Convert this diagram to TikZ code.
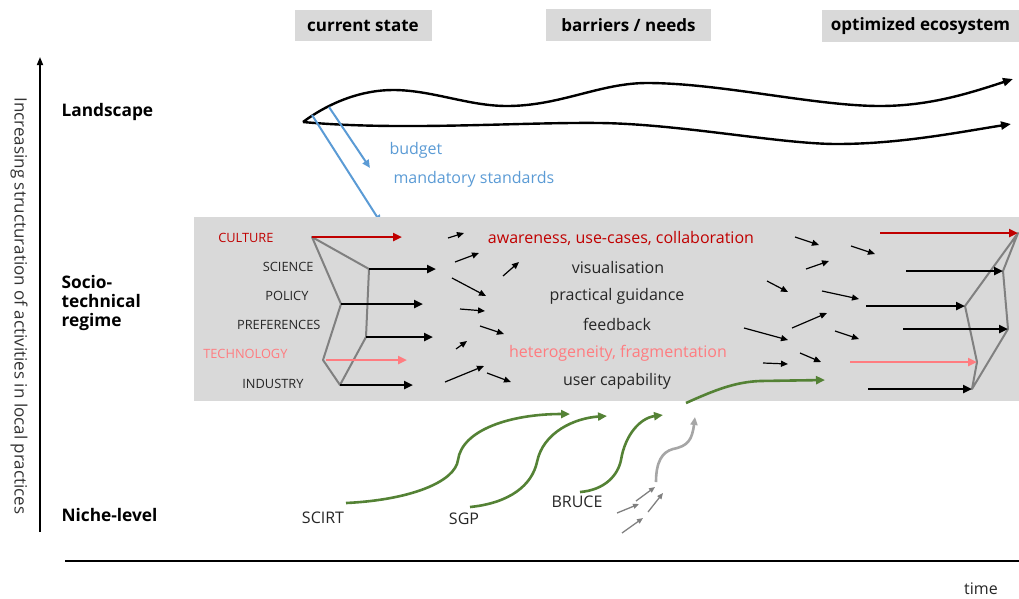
\documentclass[tikz,border=0pt]{standalone}
\usepackage{fontspec}
\setmainfont{Open Sans}
\usetikzlibrary{arrows.meta}
\definecolor{boxgray}{HTML}{D9D9D9}
\definecolor{polygray}{HTML}{808080}
\definecolor{cultred}{HTML}{C00000}
\definecolor{techred}{HTML}{FF7C80}
\definecolor{landblue}{HTML}{5B9BD5}
\definecolor{nichegreen}{HTML}{548235}
\definecolor{lightgray}{HTML}{A6A6A6}
\tikzset{
  hdr/.style={fill=boxgray, font=\fontsize{17}{19}\selectfont\bfseries, inner xsep=4pt, inner ysep=4pt},
  lvl/.style={font=\fontsize{17.3}{19}\selectfont\bfseries, anchor=west, align=left},
  cat/.style={font=\fontsize{12.8}{14}\selectfont, anchor=east, text=black!85},
  mid/.style={font=\fontsize{16}{18}\selectfont, text=black!85},
  bigarr/.style={line width=2.4pt, -{Triangle[length=9pt,width=8pt]}},
  smallarr/.style={line width=1.2pt, -{Triangle[length=7pt,width=6pt]}},
  poly/.style={polygray, line width=2pt, line join=round},
  landarr/.style={line width=2.4pt, -{Triangle[length=10pt,width=8pt]}},
  bluearr/.style={landblue, line width=2pt, -{Triangle[length=8pt,width=7pt]}},
  greenarr/.style={nichegreen, line width=2.6pt, -{Triangle[length=9pt,width=8pt]}},
  grayarr/.style={lightgray, line width=2.6pt, -{Triangle[length=8pt,width=7pt]}},
  tinyarr/.style={polygray, line width=1.3pt, -{Triangle[length=6pt,width=5pt]}},
  lbl/.style={font=\fontsize{16}{18}\selectfont, text=black!85},
}
\begin{document}
\begin{tikzpicture}[x=1pt,y=-1pt]
\useasboundingbox (0,0) rectangle (1019,598);
% headers
\node[hdr, minimum width=137pt, minimum height=31pt] (h1) at (363,25.5) {current state};
\node[hdr, minimum width=165pt, minimum height=32pt] (h2) at (628.5,25) {barriers / needs};
\node[hdr, minimum width=197pt, minimum height=32pt] (h3) at (920.5,26) {optimized ecosystem};
% axes
\coordinate (ya) at (40,532);
\coordinate (yb) at (40,57);
\draw[line width=1.6pt, -{Triangle[length=8pt,width=6pt]}] (ya) -- (yb);
\node[rotate=270, font=\fontsize{17}{19}\selectfont, text=black!80] (ylab) at (19,306) {Increasing structuration of activities in local practices};
\coordinate (xa) at (65,561);
\coordinate (xb) at (1019,561);
\draw[line width=1.6pt] (xa) -- (xb);
\node[font=\fontsize{16}{18}\selectfont, text=black!85, anchor=base, inner sep=0pt] (tlab) at (981,594) {time};
% level labels
\node[lvl] (land) at (58,112) {Landscape};
\node[lvl] (regime) at (58,303) {Socio-\\technical\\regime};
\node[lvl] (niche) at (58,515) {Niche-level};
% landscape curves
\coordinate (L0) at (303,122);
\coordinate (L1) at (1013,79);
\coordinate (M1) at (1011,124);
\draw[landarr] (L0) .. controls (330,102) and (362,90) .. (393,90) .. controls (432,90) and (468,106) .. (507,106) .. controls (560,106) and (600,83) .. (647,83) .. controls (720,83) and (815,106) .. (880,106) .. controls (930,106) and (970,93) .. (L1);
\draw[landarr] (L0) .. controls (400,131) and (520,122) .. (600,123) .. controls (680,124) and (780,144) .. (837,144) .. controls (900,144) and (960,132) .. (M1);
% blue arrows
\coordinate (b1s) at (312,115);
\coordinate (b1e) at (381,223);
\coordinate (b2s) at (329,107);
\coordinate (b2e) at (370,168);
\draw[bluearr] (b1s) -- (b1e);
\draw[bluearr] (b2s) -- (b2e);
\node[font=\fontsize{16}{18}\selectfont, text=landblue, anchor=west] (budget) at (386,150) {budget};
\node[font=\fontsize{16}{18}\selectfont, text=landblue, anchor=west] (mand) at (390,179) {mandatory standards};
% regime box
\fill[boxgray] (194,217) rectangle (1019,401);
% category labels
\node[cat, text=cultred] (cult) at (277,238) {CULTURE};
\node[cat] (sci) at (317,267) {SCIENCE};
\node[cat] (pol) at (312,296) {POLICY};
\node[cat] (pref) at (324,325) {PREFERENCES};
\node[cat, text=techred] (tech) at (291,354) {TECHNOLOGY};
\node[cat] (ind) at (307,384) {INDUSTRY};
% left polygon
\coordinate (A) at (312,237);
\coordinate (B) at (369,269);
\coordinate (C) at (341,304);
\coordinate (D) at (366,337);
\coordinate (E) at (323,360);
\coordinate (F) at (340,385);
\draw[poly] (A) -- (B) -- (D) -- (F) -- (E) -- (C) -- cycle;
% left arrows
\coordinate (Ae) at (402,237);
\coordinate (Be) at (436,269);
\coordinate (Ce) at (423,304);
\coordinate (De) at (433,337);
\coordinate (Es) at (326,360);
\coordinate (Ee) at (407,360);
\coordinate (Fe) at (413,385);
\draw[bigarr, cultred] (A) -- (Ae);
\draw[bigarr] (B) -- (Be);
\draw[bigarr] (C) -- (Ce);
\draw[bigarr] (D) -- (De);
\draw[bigarr, techred] (Es) -- (Ee);
\draw[bigarr] (F) -- (Fe);
% small arrows left
\foreach \xa/\ya/\xb/\yb in {448/238/464/233, 455/262/479/253, 503/276/519/262, 452/278/486/296, 460/309/485/311, 480/326/504/334, 456/349/467/341, 445/382/484/366, 487/373/511/382}
  \draw[smallarr] (\xa,\ya) -- (\xb,\yb);
% small arrows right
\foreach \xa/\ya/\xb/\yb in {795/237/819/245, 851/246/875/254, 806/269/829/261, 767/281/788/292, 822/291/859/299, 744/328/788/340, 792/328/827/313, 835/331/859/339, 763/363/788/364, 800/353/821/362}
  \draw[smallarr] (\xa,\ya) -- (\xb,\yb);
% middle texts
\node[mid, text=cultred] (aw) at (621,238) {awareness, use-cases, collaboration};
\node[mid] (vis) at (618,267) {visualisation};
\node[mid] (pg) at (617,296) {practical guidance};
\node[mid] (fb) at (617,324) {feedback};
\node[mid, text=techred] (het) at (618,353) {heterogeneity, fragmentation};
\node[mid] (uc) at (617,381) {user capability};
% right polygon
\coordinate (P1) at (1018,233);
\coordinate (P2) at (1003,271);
\coordinate (P3) at (965,306);
\coordinate (P4) at (1008,329);
\coordinate (P5) at (977,362);
\coordinate (P6) at (972,389);
\draw[poly] (P1) -- (P2) -- (P4) -- (P6) -- (P5) -- (P3) -- cycle;
% right arrows
\coordinate (R1) at (880,233);
\coordinate (R2) at (906,271);
\coordinate (R3) at (866,306);
\coordinate (R4) at (903,329);
\coordinate (R5) at (850,362);
\coordinate (R6) at (868,389);
\draw[bigarr, cultred] (R1) -- (P1);
\draw[bigarr] (R2) -- (P2);
\draw[bigarr] (R3) -- (P3);
\draw[bigarr] (R4) -- (P4);
\draw[bigarr, techred] (R5) -- (P5);
\draw[bigarr] (R6) -- (P6);
% niche level
\node[lbl] (scirt) at (323,518) {SCIRT};
\node[lbl] (sgp) at (464,519) {SGP};
\node[lbl] (bruce) at (577,502) {BRUCE};
\coordinate (s1) at (346,503);
\coordinate (s1m) at (458,460);
\coordinate (s1e) at (570,414);
\draw[greenarr] (s1) .. controls (410,500) and (455,482) .. (s1m) .. controls (462,430) and (510,414) .. (s1e);
\coordinate (s2) at (470,507);
\coordinate (s2m) at (537,462);
\coordinate (s2e) at (607,416);
\draw[greenarr] (s2) .. controls (510,503) and (532,485) .. (s2m) .. controls (543,432) and (575,418) .. (s2e);
\coordinate (s3) at (580,492);
\coordinate (s3m) at (621,460);
\coordinate (s3e) at (663,415);
\draw[greenarr] (s3) .. controls (605,490) and (618,475) .. (s3m) .. controls (625,435) and (640,418) .. (s3e);
\coordinate (g1) at (656,482);
\coordinate (g1m) at (673,449);
\coordinate (g1e) at (695,417);
\draw[grayarr] (g1) .. controls (656,462) and (662,452) .. (g1m) .. controls (688,446) and (692,440) .. (g1e);
\coordinate (t1) at (686,403);
\coordinate (t1e) at (825,380);
\draw[greenarr] (t1) .. controls (715,390) and (735,382) .. (760,381) -- (t1e);
\foreach \xa/\ya/\xb/\yb in {617/513/639/504, 622/533/643/518, 636/501/655/487, 648/512/663/493}
  \draw[tinyarr] (\xa,\ya) -- (\xb,\yb);
\end{tikzpicture}
\end{document}
